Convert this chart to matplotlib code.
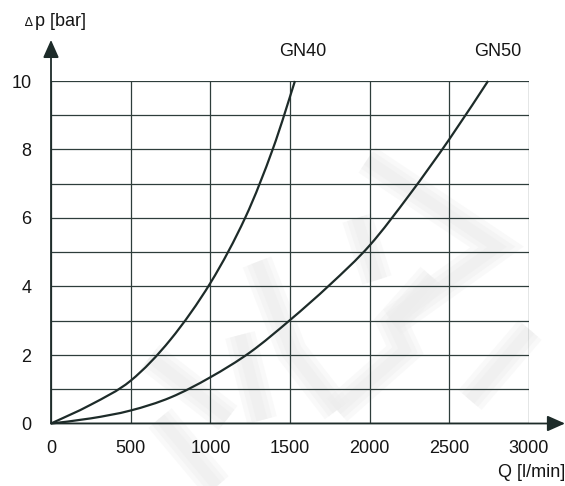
import matplotlib
matplotlib.use("Agg")
import matplotlib.pyplot as plt
import numpy as np
from matplotlib.path import Path
from matplotlib.patches import PathPatch

plt.rcParams['font.family'] = ['Liberation Sans', 'DejaVu Sans']

# pressure drop curves, flow in l/min, drop in bar
gn40_q = [0, 250, 500, 750, 1000, 1218, 1391, 1531]
gn40_dp = [0, 0.55, 1.25, 2.45, 4.1, 6, 8, 10]

gn50_q = [0, 250, 500, 750, 1000, 1250, 1500, 1750, 2000, 2250, 2500, 2743]
gn50_dp = [0, 0.15, 0.38, 0.76, 1.35, 2.08, 3.02, 4.05, 5.2, 6.68, 8.3, 10]

x_ticks = [0, 500, 1000, 1500, 2000, 2500, 3000]
y_ticks = [0, 2, 4, 6, 8, 10]

INK = '#1d2b29'
TXT = '#151515'


def smooth_path(xs, ys):
    # catmull-rom through the points, as cubic bezier segments
    pts = np.column_stack([xs, ys]).astype(float)
    verts = [pts[0]]
    codes = [Path.MOVETO]
    n = len(pts)
    for i in range(n - 1):
        p0 = pts[i - 1] if i > 0 else pts[i]
        p1 = pts[i]
        p2 = pts[i + 1]
        p3 = pts[i + 2] if i + 2 < n else pts[i + 1]
        c1 = p1 + (p2 - p0) / 6.0
        c2 = p2 - (p3 - p1) / 6.0
        verts += [c1, c2, p2]
        codes += [Path.CURVE4] * 3
    return Path(verts, codes)


fig = plt.figure(figsize=(5.65, 4.86), dpi=100)

# faint logo strokes behind the chart, in pixel coordinates
bg = fig.add_axes([0, 0, 1, 1], zorder=0)
bg.set_xlim(0, 565)
bg.set_ylim(486, 0)
bg.axis('off')
strokes = [
    [(367, 160), (497, 247), (392, 322)],
    [(357, 218), (377, 280)],
    [(432, 277), (392, 322), (405, 350), (337, 410)],
    [(257, 262), (292, 352), (337, 410)],
    [(240, 335), (262, 420)],
    [(150, 357), (228, 418)],
    [(160, 418), (217, 486)],
    [(470, 400), (530, 330)],
]
for s in strokes:
    sx, sy = zip(*s)
    for lw, a in [(22, 0.3), (15, 0.4), (8, 0.5)]:
        bg.plot(sx, sy, color='#ededed', lw=lw, alpha=a,
                solid_capstyle='butt', solid_joinstyle='miter')

ax = fig.add_axes([51 / 565, 1 - 423.5 / 486, 478 / 565, 342.5 / 486], zorder=1)
ax.set_facecolor('none')
ax.set_xlim(0, 3000)
ax.set_ylim(0, 10)

ax.set_xticks(x_ticks)
ax.set_yticks(range(0, 11))
ax.set_yticklabels([str(v) if v in y_ticks else '' for v in range(0, 11)])
ax.tick_params(length=0, labelsize=13, colors=TXT)
ax.tick_params(axis='x', pad=12)
ax.tick_params(axis='y', pad=14)
ax.grid(True, color='#2e3d3b', lw=0.9)
for sp in ax.spines.values():
    sp.set_visible(False)

# axes with arrow heads
head = '-|>,head_length=0.9,head_width=0.4'
ax.annotate('', xy=(3226, 0), xytext=(0, 0), annotation_clip=False,
            arrowprops=dict(arrowstyle=head, mutation_scale=12, color=INK,
                            lw=1.3, shrinkA=0, shrinkB=0))
ax.annotate('', xy=(0, 11.2), xytext=(0, 0), annotation_clip=False,
            arrowprops=dict(arrowstyle=head, mutation_scale=12, color=INK,
                            lw=1.3, shrinkA=0, shrinkB=0))

for qs, dps in [(gn40_q, gn40_dp), (gn50_q, gn50_dp)]:
    ax.add_patch(PathPatch(smooth_path(qs, dps), fill=False, edgecolor=INK,
                           lw=1.6, zorder=3, clip_on=False))

fig.text(303 / 565, 1 - 52 / 486, 'GN40', ha='center', va='center', fontsize=13, color=TXT)
fig.text(498 / 565, 1 - 52 / 486, 'GN50', ha='center', va='center', fontsize=13, color=TXT)
fig.text(565 / 565, 1 - 472 / 486, 'Q [l/min]', ha='right', va='center', fontsize=13, color=TXT)
fig.text(25 / 565, 1 - 23 / 486, '\u2206', ha='left', va='center', fontsize=9, color=TXT)
fig.text(35 / 565, 1 - 22 / 486, 'p [bar]', ha='left', va='center', fontsize=13, color=TXT)

fig.savefig('out.png', dpi=100)
